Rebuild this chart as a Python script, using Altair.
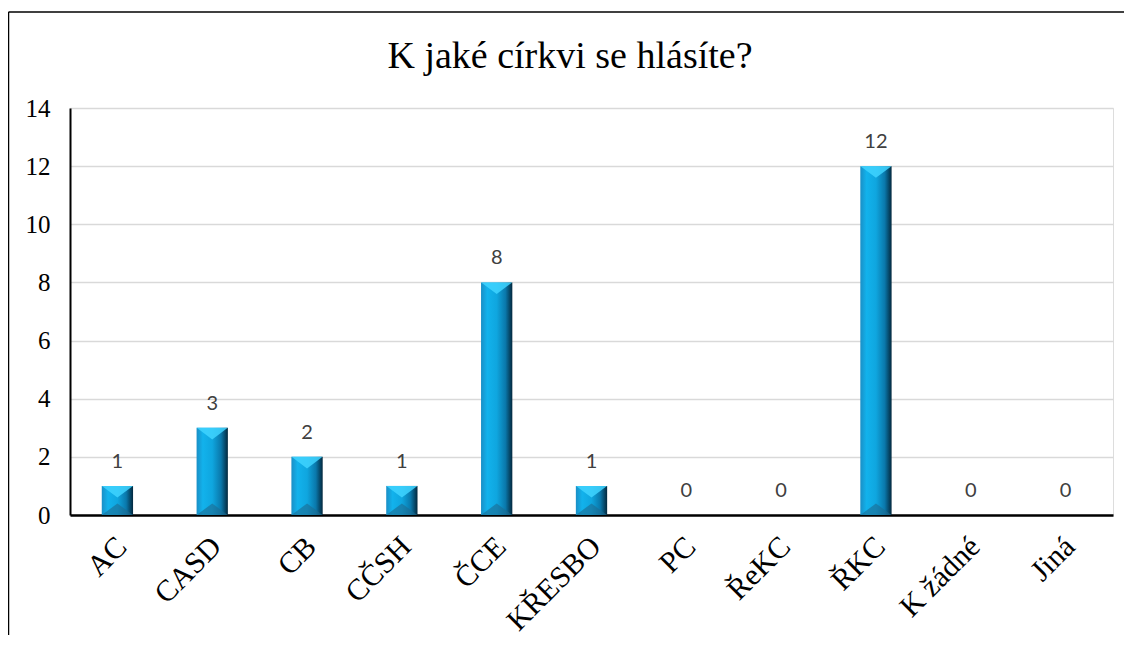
import altair as alt
import pandas as pd

categories = ["AC", "CASD", "CB", "CČSH", "ČCE", "KŘESBO", "PC", "ŘeKC", "ŘKC", "K žádné", "Jiná"]
values = [1, 3, 2, 1, 8, 1, 0, 0, 12, 0, 0]
y_ticks = [0, 2, 4, 6, 8, 10, 12, 14]
title_text = ["K jaké církvi se hlásíte?"]

df = pd.DataFrame({"cat": categories, "val": values})

SERIF = "Liberation Serif"

x_enc = alt.X(
    "cat:N",
    sort=categories,
    scale=alt.Scale(paddingInner=0.67, paddingOuter=0.335),
    axis=alt.Axis(
        title=None,
        labelAngle=-45,
        labelFont=SERIF,
        labelFontSize=30,
        labelColor="black",
        labelPadding=16,
        labelOffset=-6,
        ticks=False,
        domainColor="black",
        domainWidth=2.5,
        grid=False,
    ),
)
y_enc = alt.Y(
    "val:Q",
    scale=alt.Scale(domain=[0, 14]),
    axis=alt.Axis(
        values=y_ticks,
        title=None,
        labelFont=SERIF,
        labelFontSize=25,
        labelColor="black",
        labelPadding=20,
        ticks=False,
        domainColor="black",
        domainWidth=2,
        gridColor="#d9d9d9",
        gridWidth=1.5,
    ),
)

base = alt.Chart(df)

bars = base.mark_bar(
    color=alt.Gradient(
        gradient="linear",
        x1=0, x2=1, y1=0, y2=0,
        stops=[
            alt.GradientStop(color="#1a8fc6", offset=0),
            alt.GradientStop(color="#12b2ec", offset=0.2),
            alt.GradientStop(color="#0fa6df", offset=0.5),
            alt.GradientStop(color="#0a78ab", offset=0.78),
            alt.GradientStop(color="#03283d", offset=1),
        ],
    )
).encode(x=x_enc, y=y_enc)

top_bevel = base.transform_filter("datum.val > 0").mark_point(
    shape="M -1 0 L 1 0 L 0 0.75 Z", size=961, filled=True,
    color="#3fd3ff", opacity=0.85, strokeWidth=0,
).encode(x=alt.X("cat:N", sort=categories), y="val:Q")

bottom_bevel = base.transform_filter("datum.val > 0").transform_calculate(
    zero="0"
).mark_point(
    shape="M -1 0 L 1 0 L 0 -0.75 Z", size=961, filled=True,
    color="#1d6a91", opacity=0.6, strokeWidth=0,
).encode(x=alt.X("cat:N", sort=categories), y="zero:Q")

labels = base.mark_text(
    font="Lato", fontSize=20, color="#404040", baseline="middle", dy=-24
).encode(x=alt.X("cat:N", sort=categories), y="val:Q", text="val:Q")

title = alt.Chart(pd.DataFrame({"t": title_text})).mark_text(
    font=SERIF, fontSize=38, color="black", align="center", baseline="alphabetic"
).encode(x=alt.value(500), y=alt.value(-40), text="t:N")

frame_df = pd.DataFrame({"k": [0]})
left_line = alt.Chart(frame_df).mark_rule(color="black", strokeWidth=1.5).encode(
    x=alt.value(-61.5), y=alt.value(-96), y2=alt.value(530)
)
top_line = alt.Chart(frame_df).mark_rule(color="black", strokeWidth=1.5).encode(
    x=alt.value(-61.5), x2=alt.value(1060), y=alt.value(-96)
)

chart = alt.layer(bars, top_bevel, bottom_bevel, labels, title, left_line, top_line).properties(
    width=1043,
    height=407,
    autosize=alt.AutoSizeParams(type="none"),
    padding={"left": 62, "top": 100, "right": 11, "bottom": 120},
).configure_view(stroke=None).configure(background="white")

chart.save("out.html", embed_options={"renderer": "svg", "actions": False})
